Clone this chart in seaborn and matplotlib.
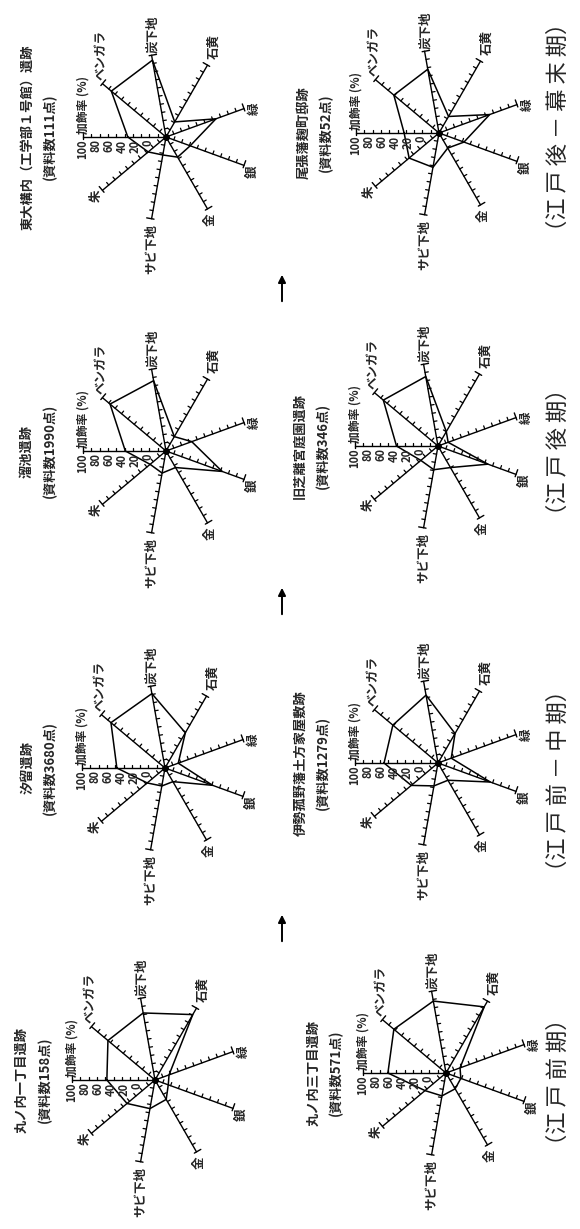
import numpy as np
import pandas as pd
import matplotlib
matplotlib.use("Agg")
import matplotlib.pyplot as plt
import seaborn as sns

# spoke labels, clockwise from the 加飾率 axis
axis_labels = ["加飾率 (%)", "ベンガラ", "炭下地", "石黄", "緑", "銀", "金", "サビ下地", "朱"]
scale_ticks = [100, 80, 60, 40, 20, 0]

# site names / sample counts (left column top->bottom, then right column)
sites = ["東大構内（工学部１号館）遺跡", "溜池遺跡", "汐留遺跡", "丸ノ内一丁目遺跡",
         "尾張藩麹町邸跡", "旧芝離宮庭園遺跡", "伊勢菰野藩土方家屋敷跡", "丸ノ内三丁目遺跡"]
counts = ["(資料数111点)", "(資料数1990点)", "(資料数3680点)", "(資料数158点)",
          "(資料数52点)", "(資料数346点)", "(資料数1279点)", "(資料数571点)"]

# values in %, same order as axis_labels
todai = [46, 86, 94, 21, 64, 31, 28, 22, 28]
tameike = [49, 88, 86, 20, 33, 72, 23, 27, 25]
shiodome = [58, 85, 91, 49, 17, 61, 19, 22, 28]
marunouchi1 = [58, 74, 82, 91, 18, 17, 27, 35, 44]
owari = [42, 71, 78, 23, 65, 32, 21, 42, 47]
shibarikyu = [50, 86, 85, 20, 13, 64, 30, 29, 27]
komono = [65, 71, 83, 41, 17, 67, 24, 28, 42]
marunouchi3 = [70, 82, 88, 92, 18, 19, 22, 28, 33]
site_values = [todai, tameike, shiodome, marunouchi1,
               owari, shibarikyu, komono, marunouchi3]

periods = ["（江 戸 後 － 幕 末 期）", "（江 戸 後 期）", "（江 戸 前 － 中 期）", "（江 戸 前 期）"]

# ---- layout (pixels of the 580x1229 page) ----
W, H = 580, 1229
PX = 0.83  # pixels per data unit (100% = 83 px)
centers = [(166, 137), (166, 451), (165, 768), (155, 1080),
           (439, 133), (438, 446), (438, 763), (446, 1073)]
title_x = [27, 27, 27, 22, 303, 300, 300, 313]
period_y = [127, 452, 780, 1082]
arrow_tip_y = [272, 585, 912]

# label offsets (data units) / alignment for each spoke end
lab_off = [(0, 4), (-1, 4), (1, 3), (8, 7), (12, 0), (10, -8), (3, -5), (0, -6), (-7, -7)]
lab_va = ["bottom", "bottom", "bottom", "bottom", "center", "center", "top", "top", "center"]

sns.set_style("white")
plt.rcParams["font.family"] = ["Noto Sans CJK JP", "DejaVu Sans"]

fig = plt.figure(figsize=(W / 100, H / 100), dpi=100)

ang = np.deg2rad(180 - 40 * np.arange(9))
ux, uy = np.cos(ang), np.sin(ang)
# tick side: perpendicular pointing up on the page (right for vertical spokes)
nx, ny = -uy.copy(), ux.copy()
flip = (ny < -1e-6) | ((np.abs(ny) < 1e-6) & (nx < 0))
nx[flip] *= -1
ny[flip] *= -1

L = 125
for (cx, cy), tx, vals, site, cnt in zip(centers, title_x, site_values, sites, counts):
    half = L * PX
    ax = fig.add_axes([(cx - half) / W, 1 - (cy + half) / H, 2 * half / W, 2 * half / H])
    ax.set_xlim(-L, L)
    ax.set_ylim(-L, L)
    ax.axis("off")

    for k in range(9):
        ax.plot([0, 100 * ux[k]], [0, 100 * uy[k]], color="black", lw=1.0)
        for r in range(10, 100, 10):
            ax.plot([r * ux[k], r * ux[k] + 4 * nx[k]], [r * uy[k], r * uy[k] + 4 * ny[k]],
                    color="black", lw=0.9)
        ax.plot([100 * ux[k] - 3 * nx[k], 100 * ux[k] + 6 * nx[k]],
                [100 * uy[k] - 3 * ny[k], 100 * uy[k] + 6 * ny[k]], color="black", lw=1.0)
        fs = 8.5 if k == 0 else 9
        ax.text(100 * ux[k] + lab_off[k][0], 100 * uy[k] + lab_off[k][1], axis_labels[k],
                rotation=90, ha="center", va=lab_va[k], fontsize=fs, fontweight="bold")

    for v in scale_ticks:
        ax.text(-(22 + 0.78 * v), -3, str(v), rotation=90, ha="center", va="top",
                fontsize=8, fontweight="bold")

    v = np.array(vals, dtype=float)
    poly = pd.DataFrame({"x": np.append(v * ux, v[0] * ux[0]),
                         "y": np.append(v * uy, v[0] * uy[0])})
    sns.lineplot(data=poly, x="x", y="y", sort=False, estimator=None,
                 color="black", lw=1.1, ax=ax)
    ax.plot(0, 0, "o", color="black", ms=4)

    ax.text((tx - cx) / PX, 0, site, rotation=90, ha="center", va="center",
            fontsize=9.5, fontweight="bold")
    ax.text((tx + 23 - cx) / PX, 0, cnt, rotation=90, ha="center", va="center",
            fontsize=9.5, fontweight="bold")

for txt, py in zip(periods, period_y):
    fig.text(558 / W, 1 - py / H, txt, rotation=90, ha="center", va="center", fontsize=16)

for py in arrow_tip_y:
    fig.add_artist(plt.Annotation("", xy=(282 / W, 1 - py / H), xytext=(282 / W, 1 - (py + 32) / H),
                                  xycoords="figure fraction", textcoords="figure fraction",
                                  arrowprops=dict(arrowstyle="-|>", color="black", lw=1.4,
                                                  mutation_scale=11)))

fig.savefig("out.png", dpi=100)
